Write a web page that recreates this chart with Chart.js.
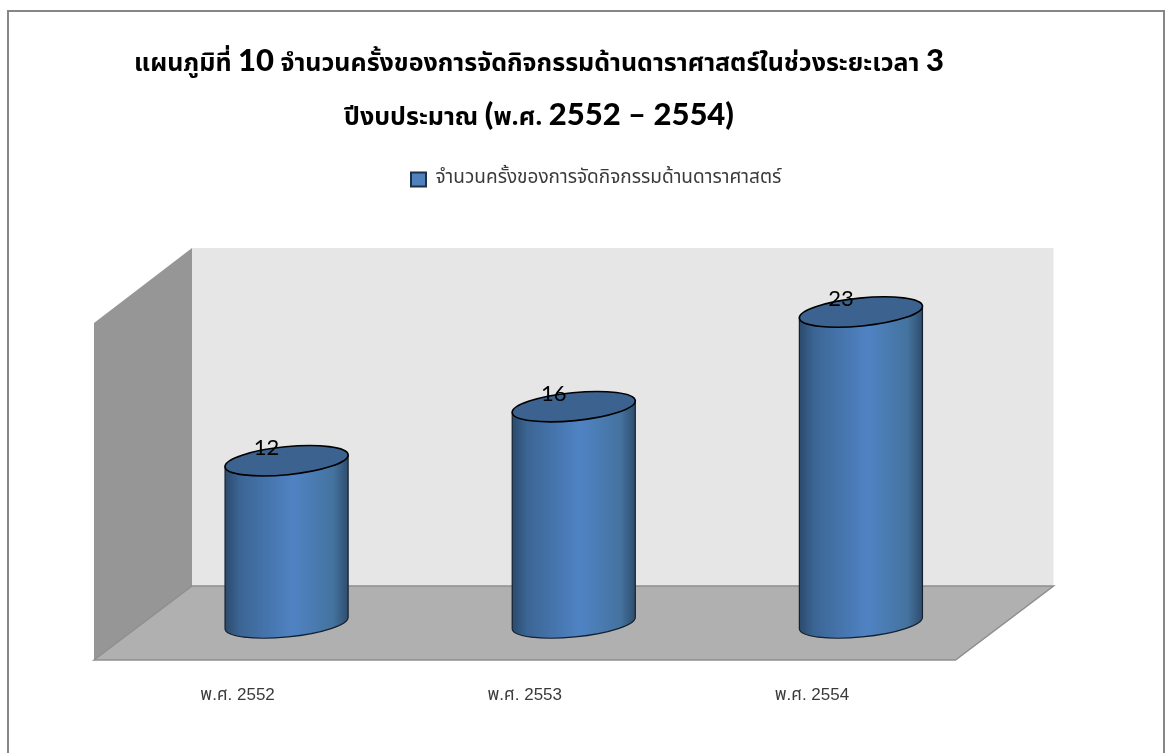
<!DOCTYPE html>
<html>
<head>
<meta charset="utf-8">
<style>
html, body { margin: 0; padding: 0; background: #fff; overflow: hidden; }
#wrap { width: 1166px; height: 753px; }
</style>
<script src="https://cdn.jsdelivr.net/npm/chart.js@4/dist/chart.umd.min.js"></script>
</head>
<body>
<div id="wrap"><canvas id="chart"></canvas></div>
<script>
var categories = ['พ.ศ. 2552', 'พ.ศ. 2553', 'พ.ศ. 2554'];
var values = [12, 16, 23];
var seriesName = 'จำนวนครั้งของการจัดกิจกรรมด้านดาราศาสตร์';
var titleLines = [
    'แผนภูมิที่ 10 จำนวนครั้งของการจัดกิจกรรมด้านดาราศาสตร์ในช่วงระยะเวลา 3',
    'ปีงบประมาณ (พ.ศ. 2552 – 2554)'
];
var axisMax = 25;

var thaiFont = '"Noto Sans Thai", "Noto Sans", "DejaVu Sans", sans-serif';
var depthX = 49, depthY = 37;

// split a title line into thai and latin runs, they use different sizes
function titleRuns(line) {
    return line.match(/[\u0E00-\u0E7F. ]+|[^\u0E00-\u0E7F. ]+/g);
}
function runFont(r) {
    return /[\u0E00-\u0E7F]/.test(r) ? 'bold 25px ' + thaiFont : '900 31px Lato';
}

var scene = {
    id: 'scene',
    beforeDraw: function(chart) {
        var ctx = chart.ctx;
        ctx.save();
        ctx.fillStyle = '#fff';
        ctx.fillRect(0, 0, chart.width, chart.height);
        ctx.strokeStyle = '#868686';
        ctx.lineWidth = 2;
        ctx.strokeRect(8, 11, 1156, 770);
        ctx.restore();

        // title, mixed font sizes so the built in title can't do it
        ctx.save();
        ctx.fillStyle = '#000';
        ctx.textBaseline = 'alphabetic';
        ctx.textAlign = 'left';
        titleLines.forEach(function(line, i) {
            var runs = titleRuns(line);
            var total = 0;
            runs.forEach(function(r) {
                ctx.font = runFont(r);
                total += ctx.measureText(r).width;
            });
            var x = 539 - total / 2;
            var y = 71 + i * 54;
            runs.forEach(function(r) {
                ctx.font = runFont(r);
                ctx.fillText(r, x, y);
                x += ctx.measureText(r).width;
            });
        });
        ctx.restore();
    },
    afterLayout: function(chart) {
        // legend goes above the walls, not inside the plot
        // the box is clipped when drawn, so leave room for the thai tone marks (labels.padding)
        var l = chart.legend;
        l.left = 401;
        l.right = 800;
        l.top = 160;
        l.bottom = 200;
    },
    beforeDatasetsDraw: function(chart) {
        var ctx = chart.ctx, a = chart.chartArea;
        var bl = a.left - depthX, br = a.right - depthX, bb = a.bottom + depthY;
        var backL = a.left + depthX, backR = a.right + depthX, backB = a.bottom - depthY, backT = a.top - depthY;
        ctx.save();
        // back wall
        ctx.fillStyle = '#e6e6e6';
        ctx.fillRect(backL, backT, backR - backL, backB - backT);
        // left wall
        ctx.beginPath();
        ctx.moveTo(bl, a.top + depthY + 1);
        ctx.lineTo(backL, backT);
        ctx.lineTo(backL, backB);
        ctx.lineTo(bl, bb);
        ctx.closePath();
        ctx.fillStyle = '#969696';
        ctx.fill();
        // floor
        ctx.beginPath();
        ctx.moveTo(bl, bb);
        ctx.lineTo(backL, backB);
        ctx.lineTo(backR, backB);
        ctx.lineTo(br, bb);
        ctx.closePath();
        ctx.fillStyle = '#b0b0b0';
        ctx.fill();
        ctx.strokeStyle = '#8e8e8e';
        ctx.lineWidth = 1.5;
        ctx.stroke();
        ctx.restore();
    },
    beforeDatasetDraw: function(chart) {
        var ctx = chart.ctx;
        var bars = chart.getDatasetMeta(0).data;
        var tilt = -0.098;
        bars.forEach(function(bar) {
            var p = bar.getProps(['x', 'y', 'base', 'width'], true);
            var rx = p.width / 2, ry = 14;
            var dy = rx * Math.tan(-tilt);
            var rxT = rx / Math.cos(tilt);
            ctx.save();
            // body
            var g = ctx.createLinearGradient(p.x - rx, 0, p.x + rx, 0);
            g.addColorStop(0, '#2c4a6c');
            g.addColorStop(0.12, '#3b6594');
            g.addColorStop(0.55, '#5083c4');
            g.addColorStop(0.88, '#44739f');
            g.addColorStop(1, '#2f4d6e');
            ctx.beginPath();
            ctx.moveTo(p.x - rx, p.y + dy);
            ctx.lineTo(p.x - rx, p.base + dy);
            ctx.ellipse(p.x, p.base, rxT, ry, tilt, Math.PI, 0, true);
            ctx.lineTo(p.x + rx, p.y - dy);
            ctx.closePath();
            ctx.fillStyle = g;
            ctx.fill();
            ctx.strokeStyle = '#14202e';
            ctx.lineWidth = 1.2;
            ctx.stroke();
            // top
            ctx.beginPath();
            ctx.ellipse(p.x, p.y, rxT, ry, tilt, 0, Math.PI * 2);
            ctx.fillStyle = '#3c628f';
            ctx.fill();
            ctx.strokeStyle = '#000';
            ctx.lineWidth = 1.6;
            ctx.stroke();
            ctx.restore();
        });
        return false;
    },
    afterDatasetsDraw: function(chart) {
        var ctx = chart.ctx;
        chart.getDatasetMeta(0).data.forEach(function(bar, i) {
            ctx.save();
            ctx.font = '22px Lato';
            ctx.fillStyle = '#000';
            ctx.textAlign = 'center';
            ctx.textBaseline = 'middle';
            ctx.fillText(values[i], bar.x - 20, bar.y - 13);
            ctx.restore();
        });
    }
};

new Chart(document.getElementById('chart'), {
    type: 'bar',
    data: {
        labels: categories,
        datasets: [{
            label: seriesName,
            data: values,
            backgroundColor: '#4f81bd',
            borderColor: '#1f2f45',
            borderWidth: 2,
            categoryPercentage: 0.4286,
            barPercentage: 1
        }]
    },
    plugins: [scene],
    options: {
        responsive: true,
        maintainAspectRatio: false,
        animation: false,
        layout: { padding: { left: 143, right: 161.5, top: 285, bottom: 0 } },
        plugins: {
            title: { display: false },
            tooltip: { enabled: false },
            legend: {
                position: 'chartArea',
                align: 'start',
                labels: {
                    padding: 10,
                    boxWidth: 15,
                    boxHeight: 14,
                    color: '#3a3a3a',
                    font: { family: thaiFont, size: 19 }
                }
            }
        },
        scales: {
            x: {
                afterFit: function(scale) { scale.height = 130; },
                grid: { display: false },
                border: { display: false },
                ticks: {
                    padding: 54,
                    labelOffset: -49,
                    maxRotation: 0,
                    autoSkip: false,
                    color: '#3a3a3a',
                    font: { family: '"Liberation Sans", ' + thaiFont, size: 17 }
                }
            },
            y: { display: false, min: 0, max: axisMax }
        }
    }
});
</script>
</body>
</html>
